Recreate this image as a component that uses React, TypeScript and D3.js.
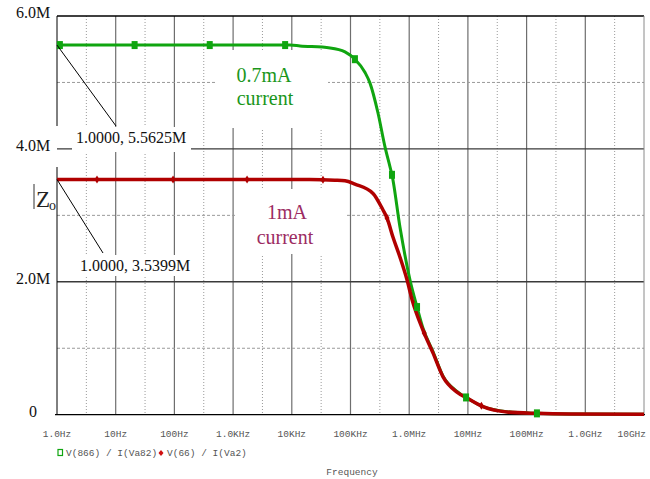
import React from "react";
import * as d3 from "d3";

// Frequency sweep (Hz) and |Zo| (ohms) for the two bias currents
const greenFreq = [1, 1e3, 9.3e3, 1.38e4, 4.5e4, 8.06e4, 1.19e5, 1.77e5, 2.15e5, 2.94e5, 3.87e5, 4.71e5, 5.09e5, 6.97e5, 1.03e6, 1.36e6, 1.72e6, 2.54e6, 3.77e6, 6.51e6, 9.66e6, 1.81e7, 4.63e7, 1.5e8, 5.5e8, 1e10];
const greenZ = [5.5625e6, 5.5625e6, 5.5625e6, 5.55e6, 5.52e6, 5.46e6, 5.35e6, 5.15e6, 4.99e6, 4.54e6, 4.03e6, 3.73e6, 3.61e6, 2.82e6, 2.03e6, 1.62e6, 1.3e6, 0.95e6, 0.58e6, 0.35e6, 0.25e6, 0.12e6, 0.045e6, 0.02e6, 0.01e6, 0.005e6];

const redFreq = [1, 1e3, 2e4, 5.4e4, 8.06e4, 1.19e5, 2.42e5, 3.58e5, 4.19e5, 5.3e5, 6.97e5, 9.18e5, 1.12e6, 1.72e6, 2.54e6, 3.77e6, 6.51e6, 9.66e6, 1.81e7, 4.63e7, 1.5e8, 5.5e8, 1e10];
const redZ = [3.5399e6, 3.5399e6, 3.5399e6, 3.53e6, 3.52e6, 3.47e6, 3.33e6, 3.08e6, 2.96e6, 2.67e6, 2.37e6, 2.03e6, 1.73e6, 1.27e6, 0.93e6, 0.57e6, 0.34e6, 0.25e6, 0.12e6, 0.04e6, 0.02e6, 0.01e6, 0.005e6];

// Frequencies where the trace symbols sit
const greenMarkerFreq = [1.12, 21, 400, 7.7e3, 1.19e5, 5.09e5, 1.36e6, 9.3e6, 1.5e8];
const redMarkerFreq = [4.8, 95, 1.73e3, 3.4e4, 4.19e5, 1.8e6, 1.7e7];

const decadeLabels = ["1.0Hz", "10Hz", "100Hz", "1.0KHz", "10KHz", "100KHz", "1.0MHz", "10MHz", "100MHz", "1.0GHz", "10GHz"];
const yTickValues = [0, 2e6, 4e6, 6e6];
const yTickLabels = ["0", "2.0M", "4.0M", "6.0M"];
const yMinorValues = [1e6, 3e6, 5e6];

const GREEN = "#10a510";
const RED = "#b00000";

const W = 650;
const H = 479;

const x = d3.scaleLog().domain([1, 1e10]).range([57, 644]);
const y = d3.scaleLinear().domain([0, 6e6]).range([414.7, 16]);

function valueAt(freqs: number[], vals: number[], f: number) {
  const lf = Math.log10(f);
  for (let i = 0; i < freqs.length - 1; i++) {
    const a = Math.log10(freqs[i]);
    const b = Math.log10(freqs[i + 1]);
    if (lf >= a && lf <= b) {
      const t = (lf - a) / (b - a);
      return vals[i] + t * (vals[i + 1] - vals[i]);
    }
  }
  return vals[vals.length - 1];
}

const line = d3
  .line<[number, number]>()
  .x((d) => x(d[0]))
  .y((d) => y(d[1]))
  .curve(d3.curveMonotoneX);

export default function App() {
  const decades = d3.range(0, 11).map((i) => Math.pow(10, i));
  const halfDecades = d3.range(0, 10).map((i) => Math.pow(10, i + 0.5));
  const greenPts = greenFreq.map((f, i) => [f, greenZ[i]] as [number, number]);
  const redPts = redFreq.map((f, i) => [f, redZ[i]] as [number, number]);
  const serif = "'Liberation Serif', 'Times New Roman', serif";
  const mono = "'Liberation Mono', 'Courier New', monospace";

  return (
    <div style={{ position: "fixed", left: 0, top: 0, width: W, height: H, background: "#fff" }}>
      <svg width={W} height={H} style={{ display: "block" }}>
        <rect x={0} y={0} width={W} height={H} fill="#fff" />

        {/* grid */}
        {halfDecades.map((f, i) => (
          <line key={"hd" + i} x1={x(f)} x2={x(f)} y1={16} y2={414.7} stroke="#9a9a9a" strokeWidth={1} strokeDasharray="1,2" />
        ))}
        {decades.slice(1, 10).map((f, i) => (
          <line key={"d" + i} x1={x(f)} x2={x(f)} y1={16} y2={414.7} stroke="#6e6e6e" strokeWidth={1.2} />
        ))}
        {yMinorValues.map((v, i) => (
          <line key={"ym" + i} x1={57} x2={644} y1={y(v)} y2={y(v)} stroke="#9a9a9a" strokeWidth={1} strokeDasharray="3,2" />
        ))}
        {yTickValues.slice(1, 3).map((v, i) => (
          <line key={"yM" + i} x1={57} x2={644} y1={y(v)} y2={y(v)} stroke="#3a3a3a" strokeWidth={1.4} />
        ))}

        {/* frame */}
        <line x1={57} x2={644} y1={16} y2={16} stroke="#000" strokeWidth={1.3} />
        <line x1={644} x2={644} y1={16} y2={414.7} stroke="#8a8a8a" strokeWidth={1} />
        <line x1={55} x2={645} y1={414.7} y2={414.7} stroke="#000" strokeWidth={1.3} />
        <line x1={57} x2={57} y1={16} y2={126} stroke="#000" strokeWidth={1} />
        <line x1={57} x2={57} y1={167} y2={415} stroke="#000" strokeWidth={1} />

        {/* label panels */}
        <rect x={72} y={127} width={119} height={25} fill="#fff" />
        <rect x={78} y={255} width={114} height={21} fill="#fff" />
        <rect x={216} y={50} width={112} height={78} fill="#fff" />
        <rect x={235} y={189} width={112} height={65} fill="#fff" />

        {/* traces */}
        <path d={line(greenPts) || ""} fill="none" stroke={GREEN} strokeWidth={3} strokeLinejoin="round" />
        <path d={line(redPts) || ""} fill="none" stroke={RED} strokeWidth={3.5} strokeLinejoin="round" />

        {redMarkerFreq.map((f, i) => {
          const cx = x(f);
          const cy = y(valueAt(redFreq, redZ, f));
          return <path key={"rm" + i} d={`M${cx},${cy - 4}L${cx + 2.5},${cy}L${cx},${cy + 4}L${cx - 2.5},${cy}Z`} fill={RED} />;
        })}
        {greenMarkerFreq.map((f, i) => {
          const cx = x(f);
          const cy = y(valueAt(greenFreq, greenZ, f));
          return <rect key={"gm" + i} x={cx - 3} y={cy - 4} width={6} height={8} fill={GREEN} />;
        })}

        {/* cursor readouts */}
        <line x1={x(1)} y1={y(greenZ[0])} x2={116} y2={126} stroke="#000" strokeWidth={1} />
        <line x1={x(1)} y1={y(redZ[0])} x2={103} y2={253} stroke="#000" strokeWidth={1} />
        <text x={131} y={143} fontFamily={serif} fontSize={16} textAnchor="middle" fill="#111">
          {`1.0000, ${(greenZ[0] / 1e6).toFixed(4)}M`}
        </text>
        <text x={135} y={271} fontFamily={serif} fontSize={16} textAnchor="middle" fill="#111">
          {`1.0000, ${(redZ[0] / 1e6).toFixed(4)}M`}
        </text>

        {/* trace annotations */}
        <text x={264} y={82} fontFamily={serif} fontSize={20} textAnchor="middle" fill="#1a961a">0.7mA</text>
        <text x={265} y={105} fontFamily={serif} fontSize={20} textAnchor="middle" fill="#1a961a">current</text>
        <text x={287} y={219} fontFamily={serif} fontSize={20} textAnchor="middle" fill="#9c2c62">1mA</text>
        <text x={285} y={244} fontFamily={serif} fontSize={20} textAnchor="middle" fill="#9c2c62">current</text>

        {/* y axis */}
        {yTickValues.map((v, i) => (
          <text key={"yl" + i} x={33} y={y(v) + 2} fontFamily={serif} fontSize={16} textAnchor="middle" fill="#111">
            {yTickLabels[i]}
          </text>
        ))}
        <line x1={34} x2={34} y1={184} y2={209} stroke="#333" strokeWidth={1} />
        <text x={36} y={207} fontFamily={serif} fontSize={23} fill="#222">Z</text>
        <text x={49} y={210} fontFamily={serif} fontSize={14} fill="#222">o</text>

        {/* x axis */}
        {decades.map((f, i) => (
          <text
            key={"xl" + i}
            x={i === 10 ? 646 : x(f)}
            y={437}
            fontFamily={mono}
            fontSize={9.5}
            textAnchor={i === 10 ? "end" : "middle"}
            fill="#555"
          >
            {decadeLabels[i]}
          </text>
        ))}

        {/* legend */}
        <rect x={58} y={449.5} width={4.5} height={6} fill="#fff" stroke={GREEN} strokeWidth={1.2} />
        <text x={66} y={456} fontFamily={mono} fontSize={9.5} fill="#555">V(866) / I(Va82)</text>
        <path d="M161,450L163.5,453L161,456L158.5,453Z" fill="#d01010" />
        <text x={167} y={456} fontFamily={mono} fontSize={9.5} fill="#555">V(66) / I(Va2)</text>

        <text x={352} y={475} fontFamily={mono} fontSize={9.5} textAnchor="middle" fill="#555">Frequency</text>
      </svg>
    </div>
  );
}
